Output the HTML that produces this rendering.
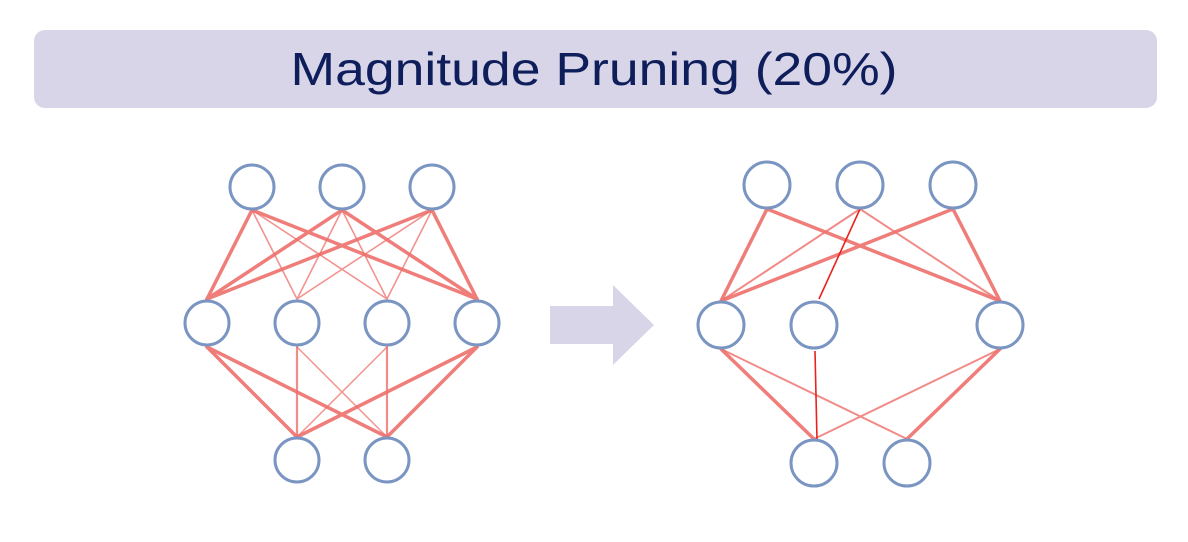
<!DOCTYPE html>
<html><head><meta charset="utf-8"><style>
html,body{margin:0;padding:0;background:#fff;}
svg{display:block;}
</style></head><body>
<svg width="1188" height="542" viewBox="0 0 1188 542" xmlns="http://www.w3.org/2000/svg">
<rect x="34" y="30" width="1123" height="78" rx="11" fill="#d9d5e8"/>
<text x="594" y="85" text-anchor="middle" font-family="Liberation Sans, sans-serif" font-size="46" fill="#0e1e5b" textLength="607" lengthAdjust="spacingAndGlyphs">Magnitude Pruning (20%)</text>

<!-- arrow -->
<polygon points="550,306 613,306 613,285 654,325 613,365 613,344 550,344" fill="#d9d5e8"/>

<g stroke="#ee6f6b" stroke-linecap="round" fill="none">
<!-- left network top->mid -->
<g stroke-width="3.5" opacity="0.9">
<line x1="252" y1="210" x2="207" y2="299"/>
<line x1="252" y1="210" x2="477" y2="299"/>
<line x1="342" y1="210" x2="207" y2="299"/>
<line x1="342" y1="210" x2="477" y2="299"/>
<line x1="432" y1="210" x2="207" y2="299"/>
<line x1="432" y1="210" x2="477" y2="299"/>
</g>
<g stroke-width="1.6" opacity="0.75">
<line x1="252" y1="210" x2="297" y2="299"/>
<line x1="252" y1="210" x2="387" y2="299"/>
<line x1="342" y1="210" x2="297" y2="299"/>
<line x1="342" y1="210" x2="387" y2="299"/>
<line x1="432" y1="210" x2="297" y2="299"/>
<line x1="432" y1="210" x2="387" y2="299"/>
</g>
<!-- left mid->bottom -->
<g stroke-width="3.5" opacity="0.9">
<line x1="207" y1="347" x2="297" y2="437"/>
<line x1="207" y1="347" x2="387" y2="437"/>
<line x1="477" y1="347" x2="297" y2="437"/>
<line x1="477" y1="347" x2="387" y2="437"/>
</g>
<g stroke-width="2.2" opacity="0.8">
<line x1="297" y1="347" x2="297" y2="437"/>
<line x1="387" y1="347" x2="387" y2="437"/>
</g>
<g stroke-width="1.5" opacity="0.75">
<line x1="297" y1="347" x2="387" y2="437"/>
<line x1="387" y1="347" x2="297" y2="437"/>
</g>

<!-- right network -->
<g stroke-width="3.5" opacity="0.9">
<line x1="767" y1="209" x2="721" y2="301"/>
<line x1="767" y1="209" x2="1000" y2="301"/>
<line x1="953" y1="209" x2="721" y2="301"/>
<line x1="953" y1="209" x2="1000" y2="301"/>
<line x1="721" y1="349" x2="814" y2="439"/>
<line x1="1000" y1="349" x2="907" y2="439"/>
</g>
<g stroke-width="2" opacity="0.8">
<line x1="860" y1="209" x2="721" y2="301"/>
<line x1="860" y1="209" x2="1000" y2="301"/>
<line x1="721" y1="349" x2="907" y2="439"/>
<line x1="1000" y1="349" x2="814" y2="439"/>
</g>
</g>
<g stroke="#e8231c" stroke-width="1.6">
<line x1="860" y1="209" x2="819" y2="299"/>
<line x1="815" y1="351" x2="817" y2="440"/>
</g>

<g fill="#fff" stroke="#7a95c2" stroke-width="3">
<circle cx="252" cy="187" r="22"/>
<circle cx="342" cy="187" r="22"/>
<circle cx="432" cy="187" r="22"/>
<circle cx="207" cy="323" r="22"/>
<circle cx="297" cy="323" r="22"/>
<circle cx="387" cy="323" r="22"/>
<circle cx="477" cy="323" r="22"/>
<circle cx="297" cy="460" r="22"/>
<circle cx="387" cy="460" r="22"/>

<circle cx="767" cy="185" r="23"/>
<circle cx="860" cy="185" r="23"/>
<circle cx="953" cy="185" r="23"/>
<circle cx="721" cy="325" r="23"/>
<circle cx="814" cy="325" r="23"/>
<circle cx="1000" cy="325" r="23"/>
<circle cx="814" cy="463" r="23"/>
<circle cx="907" cy="463" r="23"/>
</g>
</svg>
</body></html>
